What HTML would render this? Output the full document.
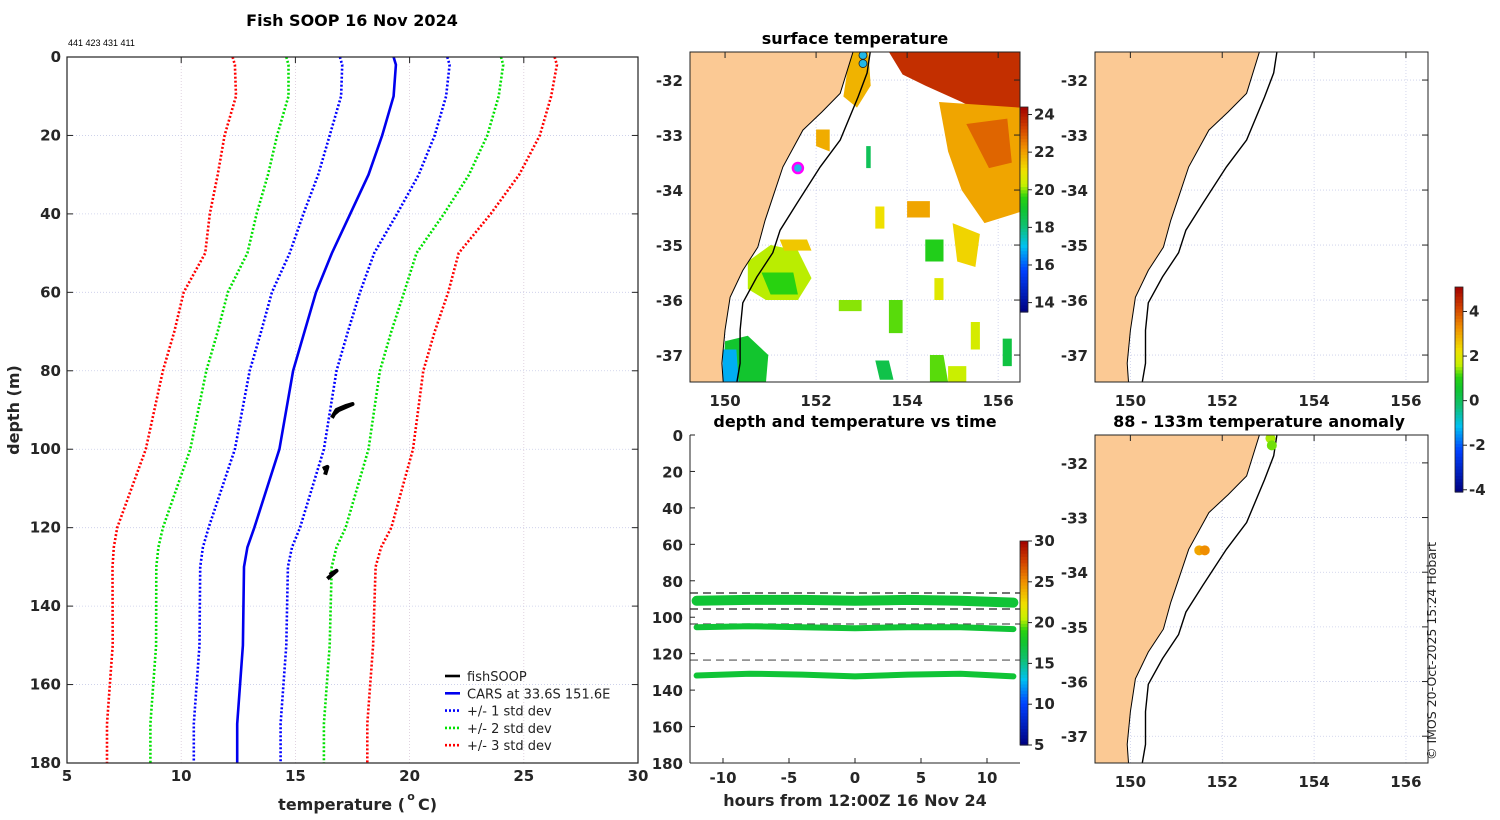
<!DOCTYPE html>
<html><head><meta charset="utf-8"><style>
html,body{margin:0;padding:0;background:#fff;}
svg{display:block;font-family:"DejaVu Sans","Liberation Sans",sans-serif;}
.tk{font-weight:bold;font-size:15px;fill:#262626;}
.lab{font-weight:bold;font-size:16px;fill:#262626;}
.ttl{font-weight:bold;font-size:16px;fill:#000;}
</style></head><body>
<svg id="fig" width="1500" height="820" viewBox="0 0 1500 820" xmlns="http://www.w3.org/2000/svg">
<defs>
<clipPath id="cpProf"><rect x="67" y="57" width="571" height="706"/></clipPath>
<clipPath id="cpM1"><rect x="690" y="52" width="330" height="330"/></clipPath>
<clipPath id="cpM2"><rect x="1095" y="52" width="333" height="330"/></clipPath>
<clipPath id="cpM3"><rect x="1095" y="435" width="333" height="328"/></clipPath>
<clipPath id="cpTS"><rect x="690" y="435" width="330" height="328"/></clipPath>
</defs>
<g id="root"></g>
</svg>
<script>
// ===== profile data =====
const depths=[0,2,10,20,30,40,50,60,70,80,100,120,125,130,150,170,180];
const carsMean=[19.3,19.4,19.3,18.8,18.2,17.4,16.6,15.9,15.4,14.9,14.3,13.2,12.9,12.75,12.7,12.45,12.45];
const carsStd=[2.35,2.35,2.3,2.3,2.2,2.05,1.85,1.93,1.9,1.9,1.95,2.0,1.95,1.92,1.9,1.9,1.9];
const fishTemp=[16.6,16.8,17.0,17.2,17.5,17.3,16.9,16.7,16.2,16.4,16.3,16.5,16.8,16.4];
const fishDepth=[92,90,89.5,89,88.5,89,90,91,105,104.5,106.5,132,131,133];
const tempTicks=[5,10,15,20,25,30];
const depthTicks=[0,20,40,60,80,100,120,140,160,180];
// ===== time series data =====
const tsHours=[-12,-8,-4,0,4,8,12];
const tsBand1=[91,90.5,90.5,91,90.5,91,92];
const tsBand2=[105.5,105,105.5,106,105.5,105.5,106.5];
const tsBand3=[132,131,131.5,132.5,131.5,131,132.5];
const tsDashed=[86.7,95.5,103.7,123.5];
const hourTicks=[-10,-5,0,5,10];
// ===== map data =====
const coastLon=[152.81,152.53,152.13,151.71,151.27,151.05,150.88,150.72,150.39,150.11,150.0,149.93,149.96];
const coastLat=[-31.49,-32.24,-32.58,-32.91,-33.58,-34.13,-34.55,-35.04,-35.46,-35.95,-36.55,-37.15,-37.49];
const isoLon=[153.19,153.12,152.92,152.53,152.09,151.58,151.21,151.05,150.70,150.39,150.33,150.33,150.26];
const isoLat=[-31.49,-31.87,-32.31,-33.09,-33.58,-34.24,-34.73,-35.14,-35.58,-36.05,-36.55,-37.15,-37.49];
const lonTicks=[150,152,154,156];
const latTicks=[-32,-33,-34,-35,-36,-37];
const anomLon=[151.5,151.62,153.05,153.08];
const anomLat=[-33.6,-33.6,-31.55,-31.68];
const anomVal=[3.0,3.3,1.5,1.3];

const NS="http://www.w3.org/2000/svg";
const root=document.getElementById('root');
function mk(tag,attrs,parent){const e=document.createElementNS(NS,tag);for(const k in attrs)e.setAttribute(k,attrs[k]);(parent||root).appendChild(e);return e;}
function txt(x,y,s,cls,anchor,parent){const t=mk('text',{x:x,y:y,'class':cls,'text-anchor':anchor||'middle'},parent);t.textContent=s;return t;}
const cmStops=[[0,[0,0,128]],[0.2,[0,64,255]],[0.32,[0,192,240]],[0.42,[16,192,112]],[0.5,[16,196,48]],[0.56,[40,210,16]],[0.62,[200,240,0]],[0.69,[240,224,0]],[0.8,[240,144,0]],[0.9,[208,64,0]],[1,[160,0,0]]];
function jet(v){v=Math.max(0,Math.min(1,v));for(let i=1;i<cmStops.length;i++){if(v<=cmStops[i][0]){const a=cmStops[i-1],b=cmStops[i],f=(v-a[0])/(b[0]-a[0]);const c=a[1].map((x,j)=>Math.round(x+(b[1][j]-x)*f));return `rgb(${c[0]},${c[1]},${c[2]})`;}}return 'rgb(160,0,0)';}

// ===== titles =====
let e=txt(352,26,'Fish SOOP 16 Nov 2024','ttl');

e=txt(68,46,'441 423 431 411','','start');e.setAttribute('font-size','9');e.setAttribute('font-family','Liberation Sans');


// ===== profile chart =====
const PX0=67,PX1=638,PY0=57,PY1=763;
const xT=t=>PX0+(t-5)/25*(PX1-PX0);
const yD=d=>PY0+d/180*(PY1-PY0);
const gProf=mk('g',{});

tempTicks.forEach(t=>{if(t>5&&t<30){const l=mk('line',{x1:xT(t),x2:xT(t),y1:PY0,y2:PY1,stroke:'#d8c8d8','stroke-width':0.8,'stroke-dasharray':'1,2'},gProf);}
  const tl=txt(xT(t),781,String(t),'tk','middle',gProf);});
depthTicks.forEach(d=>{if(d>0&&d<180){const l=mk('line',{x1:PX0,x2:PX1,y1:yD(d),y2:yD(d),stroke:'#c8cce8','stroke-width':0.8,'stroke-dasharray':'1,2'},gProf);
  mk('line',{x1:PX0,x2:PX0+6,y1:yD(d),y2:yD(d),stroke:'#222'},gProf);mk('line',{x1:PX1,x2:PX1-6,y1:yD(d),y2:yD(d),stroke:'#222'},gProf);}
  const tl=txt(61,yD(d)+5,String(d),'tk','end',gProf);});
tempTicks.forEach(t=>{mk('line',{x1:xT(t),x2:xT(t),y1:PY0,y2:PY0+6,stroke:'#222'},gProf);});
const gLines=mk('g',{'clip-path':'url(#cpProf)'},gProf);
function profPath(k){return depths.map((d,i)=>(i?'L':'M')+xT(carsMean[i]+k*carsStd[i]).toFixed(1)+','+yD(d).toFixed(1)).join('');}
const stdSpec=[[3,'#ff0000'],[2,'#00e000'],[1,'#0000ff']];
stdSpec.forEach(([k,c])=>{[-1,1].forEach(s=>{const p=mk('path',{d:profPath(s*k),fill:'none',stroke:c,'stroke-width':2.6,'stroke-dasharray':'2,2'},gLines);
  });});
let p=mk('path',{d:profPath(0),fill:'none',stroke:'#0000ee','stroke-width':2.6},gLines);

const gFish=mk('g',{},gLines);
[[0,8],[8,11],[11,14]].forEach(([a,b])=>{let d='';for(let i=a;i<b;i++)d+=(i==a?'M':'L')+xT(fishTemp[i]).toFixed(1)+','+yD(fishDepth[i]).toFixed(1);
  mk('path',{d:d,fill:'none',stroke:'#000','stroke-width':4,'stroke-linejoin':'round'},gFish);});
mk('rect',{x:PX0,y:PY0,width:PX1-PX0,height:PY1-PY0,fill:'none',stroke:'#222','stroke-width':1.2},gProf);
e=txt(405,810,'temperature (','lab','end',gProf);

e=txt(411,800,'o','','middle',gProf);e.setAttribute('font-size','11');e.setAttribute('font-weight','bold');e.setAttribute('fill','#262626');
e=txt(418,810,'C)','lab','start',gProf);
e=txt(0,0,'depth (m)','lab','middle',gProf);e.setAttribute('transform','translate(19,410) rotate(-90)');

// legend
const gLeg=mk('g',{},gProf);
[['fishSOOP','#000',''],['CARS at 33.6S 151.6E','#0000ee',''],['+/- 1 std dev','#0000ff','2,2'],['+/- 2 std dev','#00e000','2,2'],['+/- 3 std dev','#ff0000','2,2']].forEach((r,i)=>{
  const y=676+i*17.3;const g=mk('g',{},gLeg);
  const a={x1:445,x2:460,y1:y,y2:y,stroke:r[1],'stroke-width':2.6};if(r[2])a['stroke-dasharray']=r[2];mk('line',a,g);
  const t=txt(467,y+5,r[0],'','start',g);t.setAttribute('font-size','13');t.setAttribute('fill','#222');});

// ===== maps =====
function mapProj(x0,x1,y0,y1){const L0=149.23,L1=156.48,A0=-31.49,A1=-37.49;return [lo=>x0+(lo-L0)/(L1-L0)*(x1-x0),la=>y0+(A0-la)/(A0-A1)*(y1-y0)];}
function drawMapBase(g,x0,x1,y0,y1,clip){
  const [px,py]=mapProj(x0,x1,y0,y1);
  const gc=mk('g',{'clip-path':`url(#${clip})`},g);
  mk('rect',{x:x0,y:y0,width:x1-x0,height:y1-y0,fill:'#fff'},gc);
  lonTicks.forEach(l=>{const ln=mk('line',{x1:px(l),x2:px(l),y1:y0,y2:y1,stroke:'#c8cce8','stroke-width':0.8,'stroke-dasharray':'1,2'},gc);});
  latTicks.forEach(l=>{const ln=mk('line',{x1:x0,x2:x1,y1:py(l),y2:py(l),stroke:'#c8cce8','stroke-width':0.8,'stroke-dasharray':'1,2'},gc);});
  return [px,py,gc];}
function drawCoast(gc,px,py,x0,y0,y1){
  let d=`M${x0},${y0}`;coastLon.forEach((l,i)=>d+=`L${px(l).toFixed(1)},${py(coastLat[i]).toFixed(1)}`);d+=`L${x0-2},${y1+2}Z`;
  const land=mk('path',{d:d,fill:'#fbc994',stroke:'#000','stroke-width':1},gc);
  let d2='';isoLon.forEach((l,i)=>d2+=(i?'L':'M')+px(l).toFixed(1)+','+py(isoLat[i]).toFixed(1));
  const iso=mk('path',{d:d2,fill:'none',stroke:'#000','stroke-width':1.4},gc);}
function drawMapAxes(g,px,py,x0,x1,y0,y1,lonLabY){
  mk('rect',{x:x0,y:y0,width:x1-x0,height:y1-y0,fill:'none',stroke:'#222','stroke-width':1},g);
  latTicks.forEach(l=>{mk('line',{x1:x1,x2:x1-6,y1:py(l),y2:py(l),stroke:'#222'},g);
    const t=txt(x0-7,py(l)+6,String(l),'tk','end',g);t.setAttribute('font-size','16');});
  lonTicks.forEach(l=>{mk('line',{x1:px(l),x2:px(l),y1:y0,y2:y0+6,stroke:'#222'},g);
    const t=txt(px(l),lonLabY,String(l),'tk','middle',g);t.setAttribute('font-size','16');});}

// --- SST map
const gM1=mk('g',{});
let [px1,py1,gc1]=drawMapBase(gM1,690,1020,52,382,'cpM1');
const sstT=v=>jet((v-13.5)/(24.4-13.5));
const patches=[
 [[[153.6,-31.49],[156.48,-31.49],[156.48,-32.8],[155.9,-32.7],[155.2,-32.4],[154.4,-32.1],[153.9,-31.9]],23.6],
 [[[154.7,-32.4],[156.48,-32.5],[156.48,-34.4],[155.7,-34.6],[155.2,-34.0],[154.9,-33.3]],21.9],
 [[[155.3,-32.8],[156.2,-32.7],[156.3,-33.5],[155.8,-33.6]],22.8],
 [[[152.75,-31.49],[153.15,-31.49],[153.2,-32.1],[152.9,-32.5],[152.6,-32.3]],21.7],
 [[[152.0,-32.9],[152.3,-32.9],[152.3,-33.3],[152.0,-33.2]],21.8],
 [[[150.5,-35.3],[151.0,-35.0],[151.6,-35.1],[151.9,-35.6],[151.6,-36.0],[150.9,-36.0],[150.5,-35.8]],20.2],
 [[[150.8,-35.5],[151.5,-35.5],[151.6,-35.9],[151.0,-35.9]],19.6],
 [[[151.2,-34.9],[151.8,-34.9],[151.9,-35.1],[151.3,-35.1]],21.4],
 [[[150.0,-36.75],[150.5,-36.65],[150.95,-37.0],[150.9,-37.49],[149.95,-37.49]],19.0],
 [[[149.95,-36.9],[150.25,-36.9],[150.3,-37.49],[149.95,-37.49]],16.8],
 [[[154.5,-37.0],[154.8,-37.0],[154.9,-37.49],[154.5,-37.49]],19.8],
 [[[154.9,-37.2],[155.3,-37.2],[155.3,-37.49],[154.9,-37.49]],20.3],
 [[[153.3,-37.1],[153.6,-37.1],[153.7,-37.45],[153.4,-37.45]],18.6],
 [[[155.0,-34.6],[155.6,-34.8],[155.5,-35.4],[155.1,-35.3]],21.2],
 [[[154.4,-34.9],[154.8,-34.9],[154.8,-35.3],[154.4,-35.3]],19.4],
 [[[153.6,-36.0],[153.9,-36.0],[153.9,-36.6],[153.6,-36.6]],19.8],
 [[[154.6,-35.6],[154.8,-35.6],[154.8,-36.0],[154.6,-36.0]],20.7],
 [[[155.4,-36.4],[155.6,-36.4],[155.6,-36.9],[155.4,-36.9]],20.5],
 [[[156.1,-36.7],[156.3,-36.7],[156.3,-37.2],[156.1,-37.2]],18.7],
 [[[153.3,-34.3],[153.5,-34.3],[153.5,-34.7],[153.3,-34.7]],21.0],
 [[[154.0,-34.2],[154.5,-34.2],[154.5,-34.5],[154.0,-34.5]],21.9],
 [[[153.1,-33.2],[153.2,-33.2],[153.2,-33.6],[153.1,-33.6]],18.4],
 [[[152.5,-36.0],[153.0,-36.0],[153.0,-36.2],[152.5,-36.2]],20.0]];
const gSST=mk('g',{},gc1);
patches.forEach(([pts,v])=>{mk('path',{d:pts.map((q,i)=>(i?'L':'M')+px1(q[0]).toFixed(1)+','+py1(q[1]).toFixed(1)).join('')+'Z',fill:sstT(v)},gSST);});
drawCoast(gc1,px1,py1,690,52,382);
[[153.03,-31.55],[153.03,-31.7]].forEach(q=>{const c=mk('circle',{cx:px1(q[0]),cy:py1(q[1]),r:4,fill:'#20b8e8',stroke:'#222','stroke-width':0.8},gc1);});
e=mk('circle',{cx:px1(151.6),cy:py1(-33.6),r:5,fill:'#20b8e8',stroke:'#ff00ff','stroke-width':2.5},gc1);
drawMapAxes(gM1,px1,py1,690,1020,52,382,406);
e=txt(855,44,'surface temperature','ttl','middle',gM1);
function colorbar(x,y0,y1,vmin,vmax,ticks,name){
  const g=mk('g',{});
  const n=64;for(let i=0;i<n;i++){mk('rect',{x:x,y:y0+(y1-y0)*i/n,width:8,height:(y1-y0)/n+0.6,fill:jet(1-(i+0.5)/n)},g);}
  mk('rect',{x:x,y:y0,width:8,height:y1-y0,fill:'none',stroke:'#222','stroke-width':0.8},g);
  ticks.forEach(t=>{const y=y1-(t-vmin)/(vmax-vmin)*(y1-y0);mk('line',{x1:x+8,x2:x+12,y1:y,y2:y,stroke:'#222'},g);
    const tl=txt(x+14,y+5,String(t),'tk','start',g);tl.setAttribute('font-size','13');});}
colorbar(1020,107,312,13.5,24.4,[14,16,18,20,22,24],'sst-colorbar');

// --- plain map (top right)
const gM2=mk('g',{});
let [px2,py2,gc2]=drawMapBase(gM2,1095,1428,52,382,'cpM2');
drawCoast(gc2,px2,py2,1095,52,382);
drawMapAxes(gM2,px2,py2,1095,1428,52,382,406);
// --- anomaly map
const gM3=mk('g',{});
let [px3,py3,gc3]=drawMapBase(gM3,1095,1428,435,763,'cpM3');
drawCoast(gc3,px3,py3,1095,435,763);
anomLon.forEach((l,i)=>{const c=mk('circle',{cx:px3(l),cy:py3(anomLat[i]),r:5,fill:jet((anomVal[i]+4.1)/9.2)},gc3);});
drawMapAxes(gM3,px3,py3,1095,1428,435,763,787);
e=txt(1259,427,'88 - 133m temperature anomaly','ttl','middle',gM3);
colorbar(1455,287,492,-4.1,5.1,[-4,-2,0,2,4],'anomaly-colorbar');
e=txt(0,0,'© IMOS 20-Oct-2025 15:24 Hobart','','middle');e.setAttribute('font-size','12.5');e.setAttribute('fill','#222');
e.setAttribute('transform','translate(1436,651) rotate(-90)');

// ===== time series =====
const TX0=690,TX1=1020,TY0=435,TY1=763;
const xH=h=>TX0+(h+12.5)/25*(TX1-TX0);
const yTD=d=>TY0+d/180*(TY1-TY0);
const gTS=mk('g',{});
const gTc=mk('g',{'clip-path':'url(#cpTS)'},gTS);
tsDashed.forEach((d,i)=>{const l=mk('line',{x1:TX0,x2:TX1,y1:yTD(d),y2:yTD(d),stroke:i<2?'#222':'#555','stroke-width':1.2,'stroke-dasharray':'8,5'},gTc);});
[[tsBand1,10],[tsBand2,6],[tsBand3,6]].forEach(([arr,w],k)=>{let d='';tsHours.forEach((h,i)=>d+=(i?'L':'M')+xH(h).toFixed(1)+','+yTD(arr[i]).toFixed(1));
  const pth=mk('path',{d:d,fill:'none',stroke:jet((17.3-5)/25),'stroke-width':w,'stroke-linecap':'round','stroke-linejoin':'round'},gTc);
  });
mk('line',{x1:TX0,x2:TX0,y1:TY0,y2:TY1,stroke:'#222'},gTS);mk('line',{x1:TX0,x2:TX1,y1:TY1,y2:TY1,stroke:'#222'},gTS);
depthTicks.forEach(d=>{mk('line',{x1:TX0,x2:TX0+5,y1:yTD(d),y2:yTD(d),stroke:'#222'},gTS);
  const t=txt(TX0-7,yTD(d)+6,String(d),'tk','end',gTS);t.setAttribute('font-size','16');});
hourTicks.forEach(h=>{mk('line',{x1:xH(h),x2:xH(h),y1:TY1,y2:TY1-5,stroke:'#222'},gTS);
  const t=txt(xH(h),783,String(h),'tk','middle',gTS);t.setAttribute('font-size','16');});
e=txt(855,806,'hours from 12:00Z 16 Nov 24','lab','middle',gTS);
e=txt(855,427,'depth and temperature vs time','ttl','middle',gTS);
colorbar(1020,541,745,5,30,[5,10,15,20,25,30],'time-colorbar');
</script>
</body></html>
